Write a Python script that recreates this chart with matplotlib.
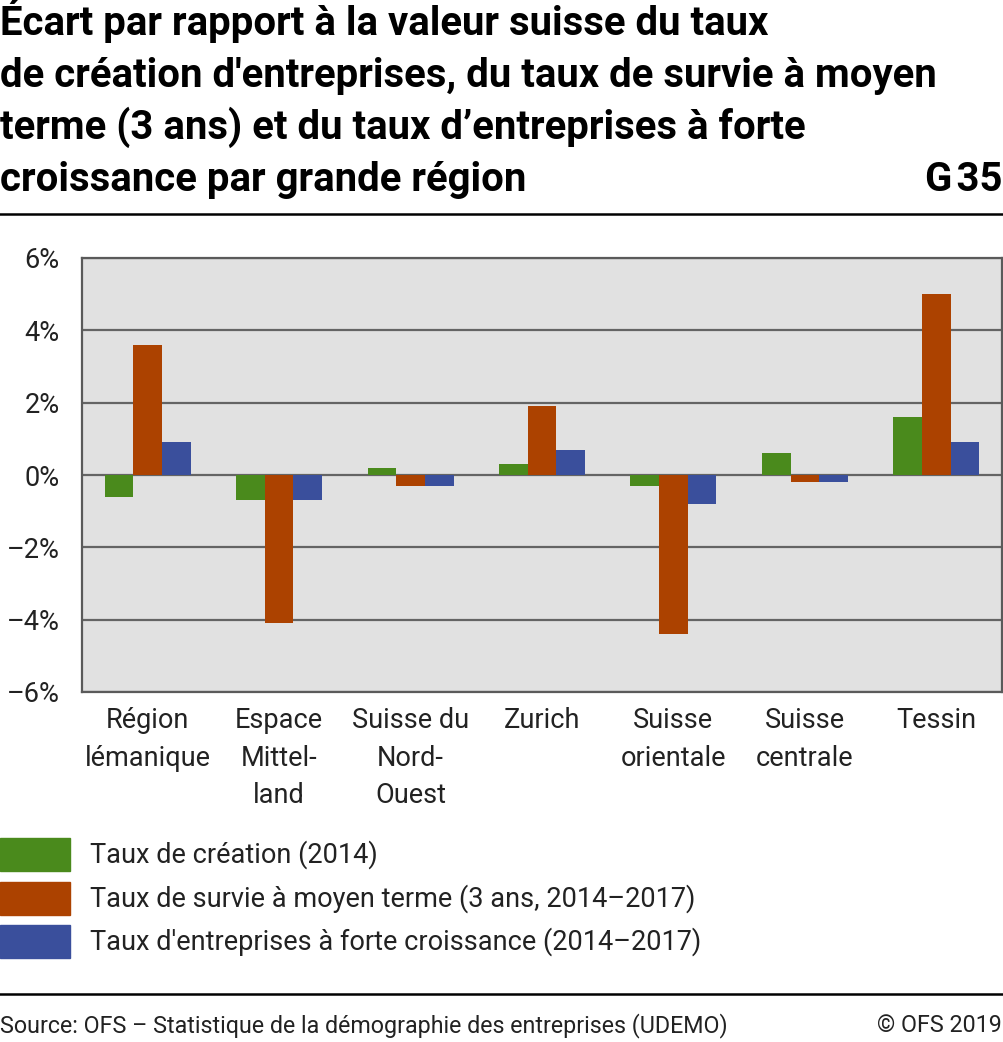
import numpy as np
import matplotlib
matplotlib.use("Agg")
import matplotlib.pyplot as plt
from matplotlib.patches import Rectangle

plt.rcParams['font.family'] = ['Roboto', 'DejaVu Sans']

# données
regions = ["Région\nlémanique", "Espace\nMittel-\nland", "Suisse du\nNord-\nOuest", "Zurich",
           "Suisse\norientale", "Suisse\ncentrale", "Tessin"]
creation = [-0.6, -0.7, 0.2, 0.3, -0.3, 0.6, 1.6]
survie = [3.6, -4.1, -0.3, 1.9, -4.4, -0.2, 5.0]
croissance = [0.9, -0.7, -0.3, 0.7, -0.8, -0.2, 0.9]
series_noms = ["Taux de création (2014)",
               "Taux de survie à moyen terme (3 ans, 2014–2017)",
               "Taux d'entreprises à forte croissance (2014–2017)"]
couleurs = ["#4a8a1c", "#ac4200", "#3a4f9c"]
yticks = [-6, -4, -2, 0, 2, 4, 6]
titre = ["Écart par rapport à la valeur suisse du taux",
         "de création d'entreprises, du taux de survie à moyen",
         "terme (3 ans) et du taux d’entreprises à forte",
         "croissance par grande région"]

W, H = 1004, 1042
fig = plt.figure(figsize=(W / 100, H / 100), dpi=100)

ax = fig.add_axes([82 / W, 1 - 692 / H, (1002 - 82) / W, (692 - 258) / H])
ax.set_facecolor("#e1e1e1")

x = np.arange(len(regions))
bw = 0.218
for i, vals in enumerate([creation, survie, croissance]):
    ax.bar(x + (i - 1) * bw, vals, bw, color=couleurs[i], zorder=3)

ax.set_xlim(-0.5, len(regions) - 0.5)
ax.set_ylim(-6, 6)
ax.set_yticks(yticks)
ax.set_yticklabels([("–" if v < 0 else "") + f"{abs(v)}%" for v in yticks])
ax.grid(axis="y", color="#646464", lw=1.6, zorder=1)
ax.set_xticks(x)
ax.set_xticklabels(regions, linespacing=1.5)
ax.tick_params(axis="x", length=0, pad=11, labelsize=19.5, colors="#222222")
ax.tick_params(axis="y", length=0, pad=16, labelsize=19.5, colors="#222222")
for s in ax.spines.values():
    s.set_color("#5a5a5a")
    s.set_linewidth(1.6)

# titre
for k, ligne in enumerate(titre):
    fig.text(0, 1 - (35 + 52 * k) / H, ligne, ha="left", va="baseline",
             fontsize=28.9, fontweight="bold")
fig.text(1002 / W, 1 - 191 / H, "G\u200a35", ha="right", va="baseline", fontsize=28.9, fontweight="bold")
fig.add_artist(plt.Line2D([0, 1002 / W], [1 - 214 / H] * 2, color="black", lw=1.8))

# légende
for i, nom in enumerate(series_noms):
    y0 = 838 + i * 43.5
    fig.add_artist(Rectangle((0, 1 - (y0 + 33) / H), 70 / W, 33 / H, color=couleurs[i]))
    fig.text(90 / W, 1 - (y0 + 17) / H, nom, ha="left", va="center", fontsize=19.5, color="#222222")

# source
fig.add_artist(plt.Line2D([0, 1002 / W], [1 - 994 / H] * 2, color="black", lw=1.8))
fig.text(0, 1 - 1026 / H, "Source: OFS – Statistique de la démographie des entreprises (UDEMO)",
         ha="left", va="center", fontsize=16.75, color="#222222")
fig.text(1002 / W, 1 - 1026 / H, "© OFS 2019", ha="right", va="center", fontsize=16.75, color="#222222")

fig.savefig("out.png", dpi=100)
